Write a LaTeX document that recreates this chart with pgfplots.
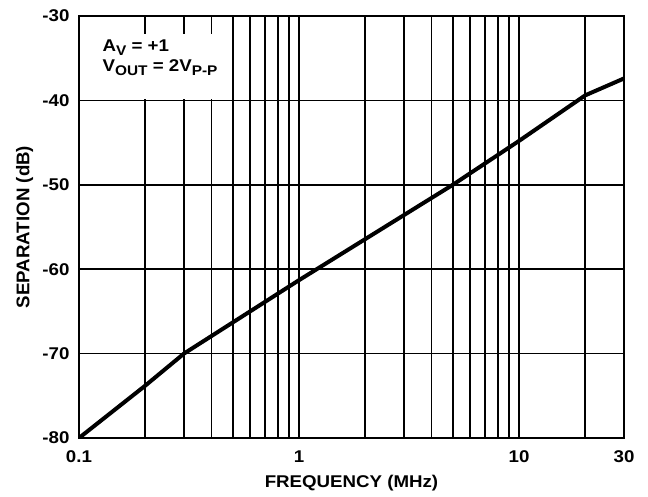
\documentclass[border=0pt]{standalone}
\usepackage{fontspec}
\setmainfont{Liberation Sans}[FakeStretch=1.1]
\usepackage{pgfplots}
\pgfplotsset{compat=1.18}

% subscript that sits low, as on the original sheet
\newcommand{\sub}[1]{\raisebox{-0.45ex}{\fontsize{14}{14}\selectfont #1}}

\begin{document}
\begin{tikzpicture}
\begin{axis}[
    width=545pt,
    height=422pt,
    scale only axis,
    xmode=log,
    xmin=0.1,
    xmax=30,
    ymin=-80,
    ymax=-30,
    xtick={0.1,1,10,30},
    xticklabels={0.1,1,10,30},
    ytick={-80,-70,-60,-50,-40,-30},
    yticklabels={-80,-70,-60,-50,-40,-30},
    minor xtick={0.2,0.3,0.4,0.5,0.6,0.7,0.8,0.9,2,3,4,5,6,7,8,9,20},
    xmajorgrids=true,
    xminorgrids=true,
    ymajorgrids=true,
    grid style={black, line width=1.7pt},
    minor grid style={black, line width=1.7pt},
    axis line style={black, line width=2.2pt},
    major tick length=0pt,
    minor tick length=0pt,
    tick label style={font=\fontsize{17}{17}\selectfont\bfseries},
    label style={font=\fontsize{17}{17}\selectfont\bfseries},
    xlabel={FREQUENCY (MHz)},
    ylabel={SEPARATION (dB)},
    xticklabel style={yshift=-9pt},
    yticklabel style={xshift=-6pt},
    xlabel style={yshift=-6pt},
    ylabel style={yshift=2pt, font=\fontsize{17}{17}\selectfont\bfseries, yscale=1.08},
]
\addplot[black, line width=4pt, line join=round] coordinates {
    (0.1,-80) (0.2,-73.8) (0.3,-70) (1,-61.3) (5,-50) (10,-44.8) (20,-39.4) (30,-37.4)
};
% blank patch behind the conditions text
\fill[white] ([xshift=1.3pt,yshift=1pt]axis cs:0.1,-40) rectangle (axis cs:0.46,-32.1);
\node[anchor=north west, align=left, font=\fontsize{17}{19}\selectfont\bfseries, inner sep=0pt]
    at (rel axis cs:0.043,0.945) {A\sub{V} = +1\\[1pt] V\sub{OUT} = 2V\sub{P-P}};
\end{axis}
\path ([shift={(-79pt,-58pt)}]current axis.south west) rectangle ([shift={(24pt,16pt)}]current axis.north east);
\end{tikzpicture}
\end{document}
